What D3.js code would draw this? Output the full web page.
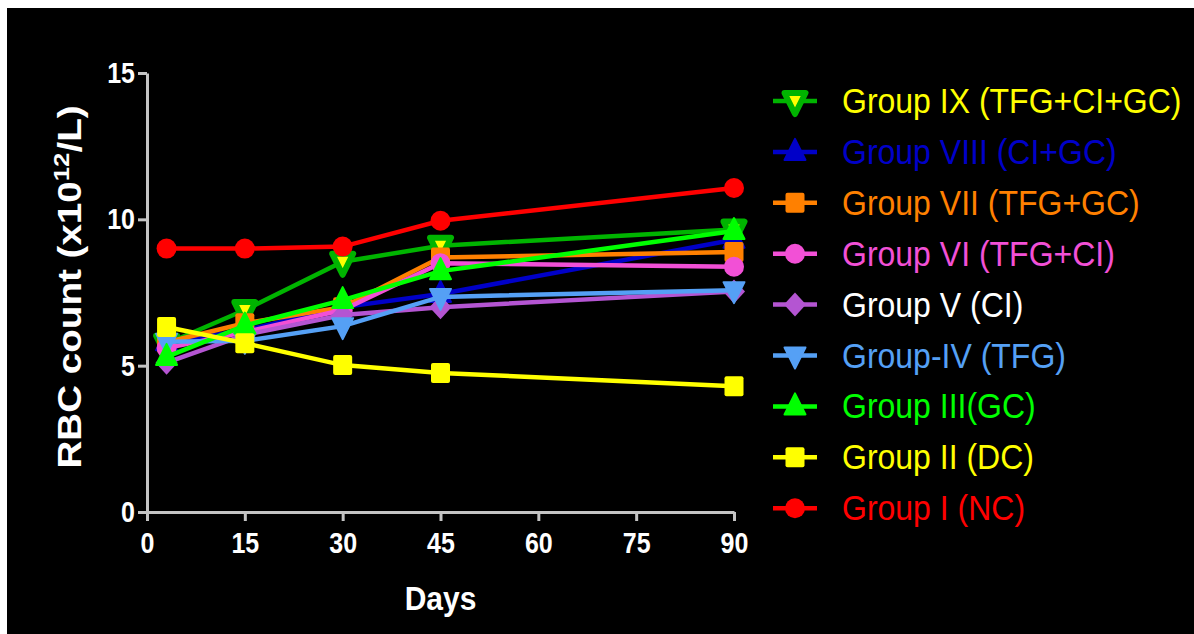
<!DOCTYPE html>
<html>
<head>
<meta charset="utf-8">
<script src="https://cdn.jsdelivr.net/npm/d3@7"></script>
<style>
  body { margin: 0; background: #fff; }
  svg { display: block; }
</style>
</head>
<body>
<div id="chart"></div>
<script>
// Data
const days = [3, 15, 30, 45, 90];
const groupNames = [
    "Group IX (TFG+CI+GC)", "Group VIII (CI+GC)", "Group VII (TFG+GC)",
    "Group VI (TFG+CI)", "Group V (CI)", "Group-IV (TFG)",
    "Group III(GC)", "Group II (DC)", "Group I (NC)"
];
const groupIX = [5.75, 6.9, 8.55, 9.1, 9.65];
const groupVIII = [5.8, 6.2, 7.0, 7.45, 9.3];
const groupVII = [5.8, 6.45, 7.0, 8.7, 8.88];
const groupVI = [5.6, 6.15, 6.9, 8.5, 8.38];
const groupV = [5.1, 6.05, 6.73, 7.0, 7.53];
const groupIV = [5.82, 5.85, 6.35, 7.35, 7.58];
const groupIII = [5.3, 6.37, 7.24, 8.23, 9.6];
const groupII = [6.32, 5.77, 5.02, 4.75, 4.3];
const groupI = [9.0, 9.0, 9.07, 9.95, 11.07];
const seriesValues = [groupIX, groupVIII, groupVII, groupVI, groupV, groupIV, groupIII, groupII, groupI];
const xTicks = [0, 15, 30, 45, 60, 75, 90];
const yTicks = [0, 5, 10, 15];

// styling per group
const lineColors = ["#00b400", "#0000c8", "#ff8000", "#f250d6", "#b455d2", "#55a0f5", "#00ff00", "#ffff00", "#ff0000"];
const textColors = ["#ffff00", "#0000c8", "#ff8000", "#f250d6", "#ffffff", "#55a0f5", "#00ff00", "#ffff00", "#ff0000"];
const shapes = ["triDown", "triUp", "square", "circle", "diamond", "triDown", "triUp", "square", "circle"];

const width = 1194, height = 634;

const xScale = d3.scaleLinear().domain([0, 90]).range([147, 734]);
const yScale = d3.scaleLinear().domain([0, 15]).range([512, 73]);

const svg = d3.select("#chart").append("svg")
    .attr("width", width)
    .attr("height", height);

// black panel with a thin white strip on top / left
svg.append("rect")
    .attr("x", 7).attr("y", 8)
    .attr("width", width - 7).attr("height", height - 8)
    .attr("fill", "#000");

const axisColor = "#c4c4c4";
const sansFont = "'Liberation Sans', Arial, sans-serif";
const stretch = 1.17; // the original picture is a bit taller than wide

// X axis
const xAxis = svg.append("g")
    .attr("transform", `translate(0, ${yScale(0)})`)
    .call(d3.axisBottom(xScale).tickValues(xTicks).tickSize(9).tickPadding(8).tickSizeOuter(0));

// Y axis
const yAxis = svg.append("g")
    .attr("transform", `translate(${xScale(0)}, 0)`)
    .call(d3.axisLeft(yScale).tickValues(yTicks).tickSize(9).tickPadding(3).tickSizeOuter(0));

[xAxis, yAxis].forEach(ax => {
    ax.select(".domain").attr("stroke", axisColor).attr("stroke-width", 3);
    ax.selectAll(".tick line").attr("stroke", axisColor).attr("stroke-width", 3);
    ax.selectAll(".tick text")
        .attr("fill", "#fff")
        .attr("transform", `scale(1, ${stretch})`)
        .style("font-family", sansFont)
        .style("font-weight", "bold")
        .style("font-size", "25px");
});

// Axis titles
svg.append("text")
    .attr("transform", `translate(${xScale(45)}, 610) scale(1, 1.1)`)
    .attr("text-anchor", "middle")
    .attr("fill", "#fff")
    .style("font-family", sansFont)
    .style("font-weight", "bold")
    .style("font-size", "30px")
    .text("Days");

const yTitle = svg.append("text")
    .attr("transform", `translate(81, 287) rotate(-90) scale(1.17, 1)`)
    .attr("text-anchor", "middle")
    .attr("fill", "#fff")
    .style("font-family", sansFont)
    .style("font-weight", "bold")
    .style("font-size", "33px");
yTitle.append("tspan").text("RBC count (x10");
yTitle.append("tspan").attr("dy", -12).style("font-size", "22px").text("12");
yTitle.append("tspan").attr("dy", 12).text("/L)");

// marker drawing
function drawMarker(g, shape, cx, cy, color, i) {
    if (shape === "circle") {
        g.append("circle").attr("cx", cx).attr("cy", cy).attr("r", 10).attr("fill", color);
    } else if (shape === "square") {
        g.append("rect").attr("x", cx - 9.5).attr("y", cy - 10)
            .attr("width", 19).attr("height", 20).attr("rx", 2).attr("fill", color);
    } else if (shape === "diamond") {
        g.append("path").attr("d", `M${cx},${cy - 12}L${cx + 11},${cy}L${cx},${cy + 12}L${cx - 11},${cy}Z`)
            .attr("fill", color);
    } else if (shape === "triUp") {
        g.append("path").attr("d", `M${cx},${cy - 13}L${cx + 10.5},${cy + 8}L${cx - 10.5},${cy + 8}Z`)
            .attr("fill", color).attr("stroke", color).attr("stroke-width", 2).attr("stroke-linejoin", "round");
    } else if (shape === "triDown") {
        const inner = i === 0;
        g.append("path").attr("d", `M${cx},${cy + 13}L${cx + 10.5},${cy - 8}L${cx - 10.5},${cy - 8}Z`)
            .attr("fill", inner ? "#ffff00" : color)
            .attr("stroke", color).attr("stroke-width", inner ? 6 : 2).attr("stroke-linejoin", "round");
    }
}

// Lines and markers, drawn in legend order (last on top)
const line = d3.line()
    .x((d, j) => xScale(days[j]))
    .y(d => yScale(d));

const plot = svg.append("g");
seriesValues.forEach((vals, i) => {
    const g = plot.append("g");
    g.append("path")
        .attr("d", line(vals))
        .attr("fill", "none")
        .attr("stroke", lineColors[i])
        .attr("stroke-width", 4.5);
    vals.forEach((v, j) => drawMarker(g, shapes[i], xScale(days[j]), yScale(v), lineColors[i], i));
});

// Legend
const legend = svg.append("g");
groupNames.forEach((name, i) => {
    const y = 101 + i * 50.9;
    const row = legend.append("g");
    row.append("line")
        .attr("x1", 773).attr("x2", 817)
        .attr("y1", y).attr("y2", y)
        .attr("stroke", lineColors[i]).attr("stroke-width", 4.5);
    drawMarker(row, shapes[i], 795, y, lineColors[i], i);
    row.append("text")
        .attr("transform", `translate(842, ${y + 12}) scale(1, 1.1)`)
        .attr("fill", textColors[i])
        .style("font-family", sansFont)
        .style("font-size", "32px")
        .text(name);
});
</script>
</body>
</html>
